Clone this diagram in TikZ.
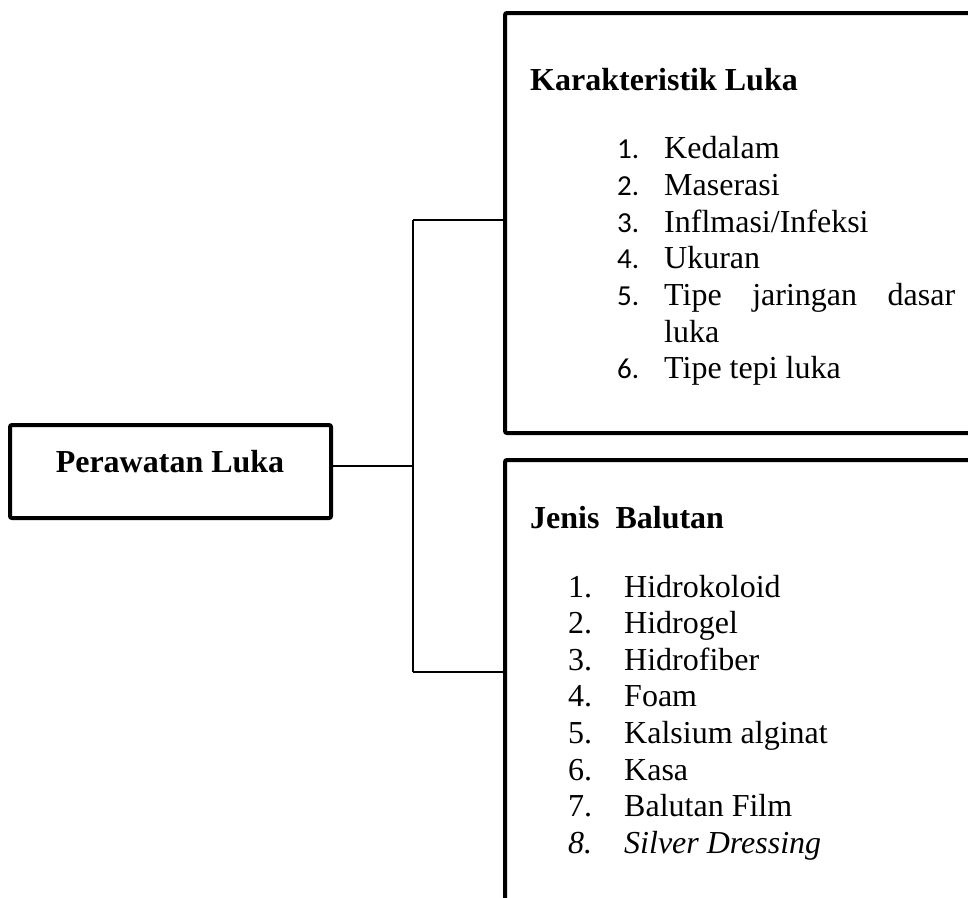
\documentclass[tikz,border=0pt]{standalone}
\usepackage{fontspec}
\setmainfont{Liberation Serif}
\newfontfamily\numfont{Carlito}
\usetikzlibrary{calc}
\tikzset{
  panel/.style={draw=black, line width=4pt, rounded corners=2pt, inner sep=0pt},
  conn/.style={draw=black, line width=1.6pt},
  head/.style={font=\fontsize{32}{38}\selectfont\bfseries, anchor=base west, inner sep=0pt},
  item/.style={font=\fontsize{32}{38}\selectfont, anchor=base west, inner sep=0pt},
  itemit/.style={item, font=\fontsize{32}{38}\selectfont\itshape},
  num/.style={font=\fontsize{29}{34}\selectfont\numfont, anchor=base west, inner sep=0pt},
}

\begin{document}
\begin{tikzpicture}[x=1pt,y=-1pt]
  \clip (0,0) rectangle (968,897);
  % boxes (the right ones run off the page)
  \node[panel, minimum width=321pt, minimum height=93pt] (perawatan) at (170.5,471.5) {};
  \node[panel, minimum width=500pt, minimum height=420pt] (karakteristik) at (755,223) {};
  \node[panel, minimum width=500pt, minimum height=480pt] (jenis) at (755,700) {};
  \node[head, anchor=base] (plabel) at (170,472) {Perawatan Luka};
  % connectors
  \coordinate (jtop) at (413,220);
  \coordinate (jmid) at (413,466);
  \coordinate (jbot) at (413,672);
  \draw[conn] (perawatan.east |- jmid) -- (jmid);
  \draw[conn] (jtop) -- (jbot);
  \draw[conn] (jtop) -- (jtop -| karakteristik.west);
  \draw[conn] (jbot) -- (jbot -| jenis.west);
  % Karakteristik Luka
  \node[head] (khead) at (530,90) {Karakteristik Luka};
  \foreach \n/\t/\y in {1/Kedalam/158, 2/Maserasi/195, 3/{Inflmasi/Infeksi}/232, 4/Ukuran/268, 6/Tipe tepi luka/378}{
    \node[num] (kn\n) at (617,\y) {\n.};
    \node[item] (kt\n) at (664,\y) {\t};
  }
  \node[num] (kn5) at (617,305) {5.};
  \node[item] (kt5) at (664,305) {\makebox[291pt][s]{Tipe jaringan dasar}};
  \node[item] (kt5b) at (664,342) {luka};
  % Jenis Balutan
  \node[head] (jhead) at (530,528) {Jenis\ \ Balutan};
  \foreach \n/\t/\y in {1/Hidrokoloid/597, 2/Hidrogel/633.6, 3/Hidrofiber/670.2, 4/Foam/706.8, 5/Kalsium alginat/743.4, 6/Kasa/780, 7/Balutan Film/816.6}{
    \node[item] (bn\n) at (568,\y) {\n.};
    \node[item] (bt\n) at (624,\y) {\t};
  }
  \node[itemit] (bn8) at (568,853.2) {8.};
  \node[itemit] (bt8) at (624,853.2) {Silver Dressing};
\end{tikzpicture}
\end{document}
